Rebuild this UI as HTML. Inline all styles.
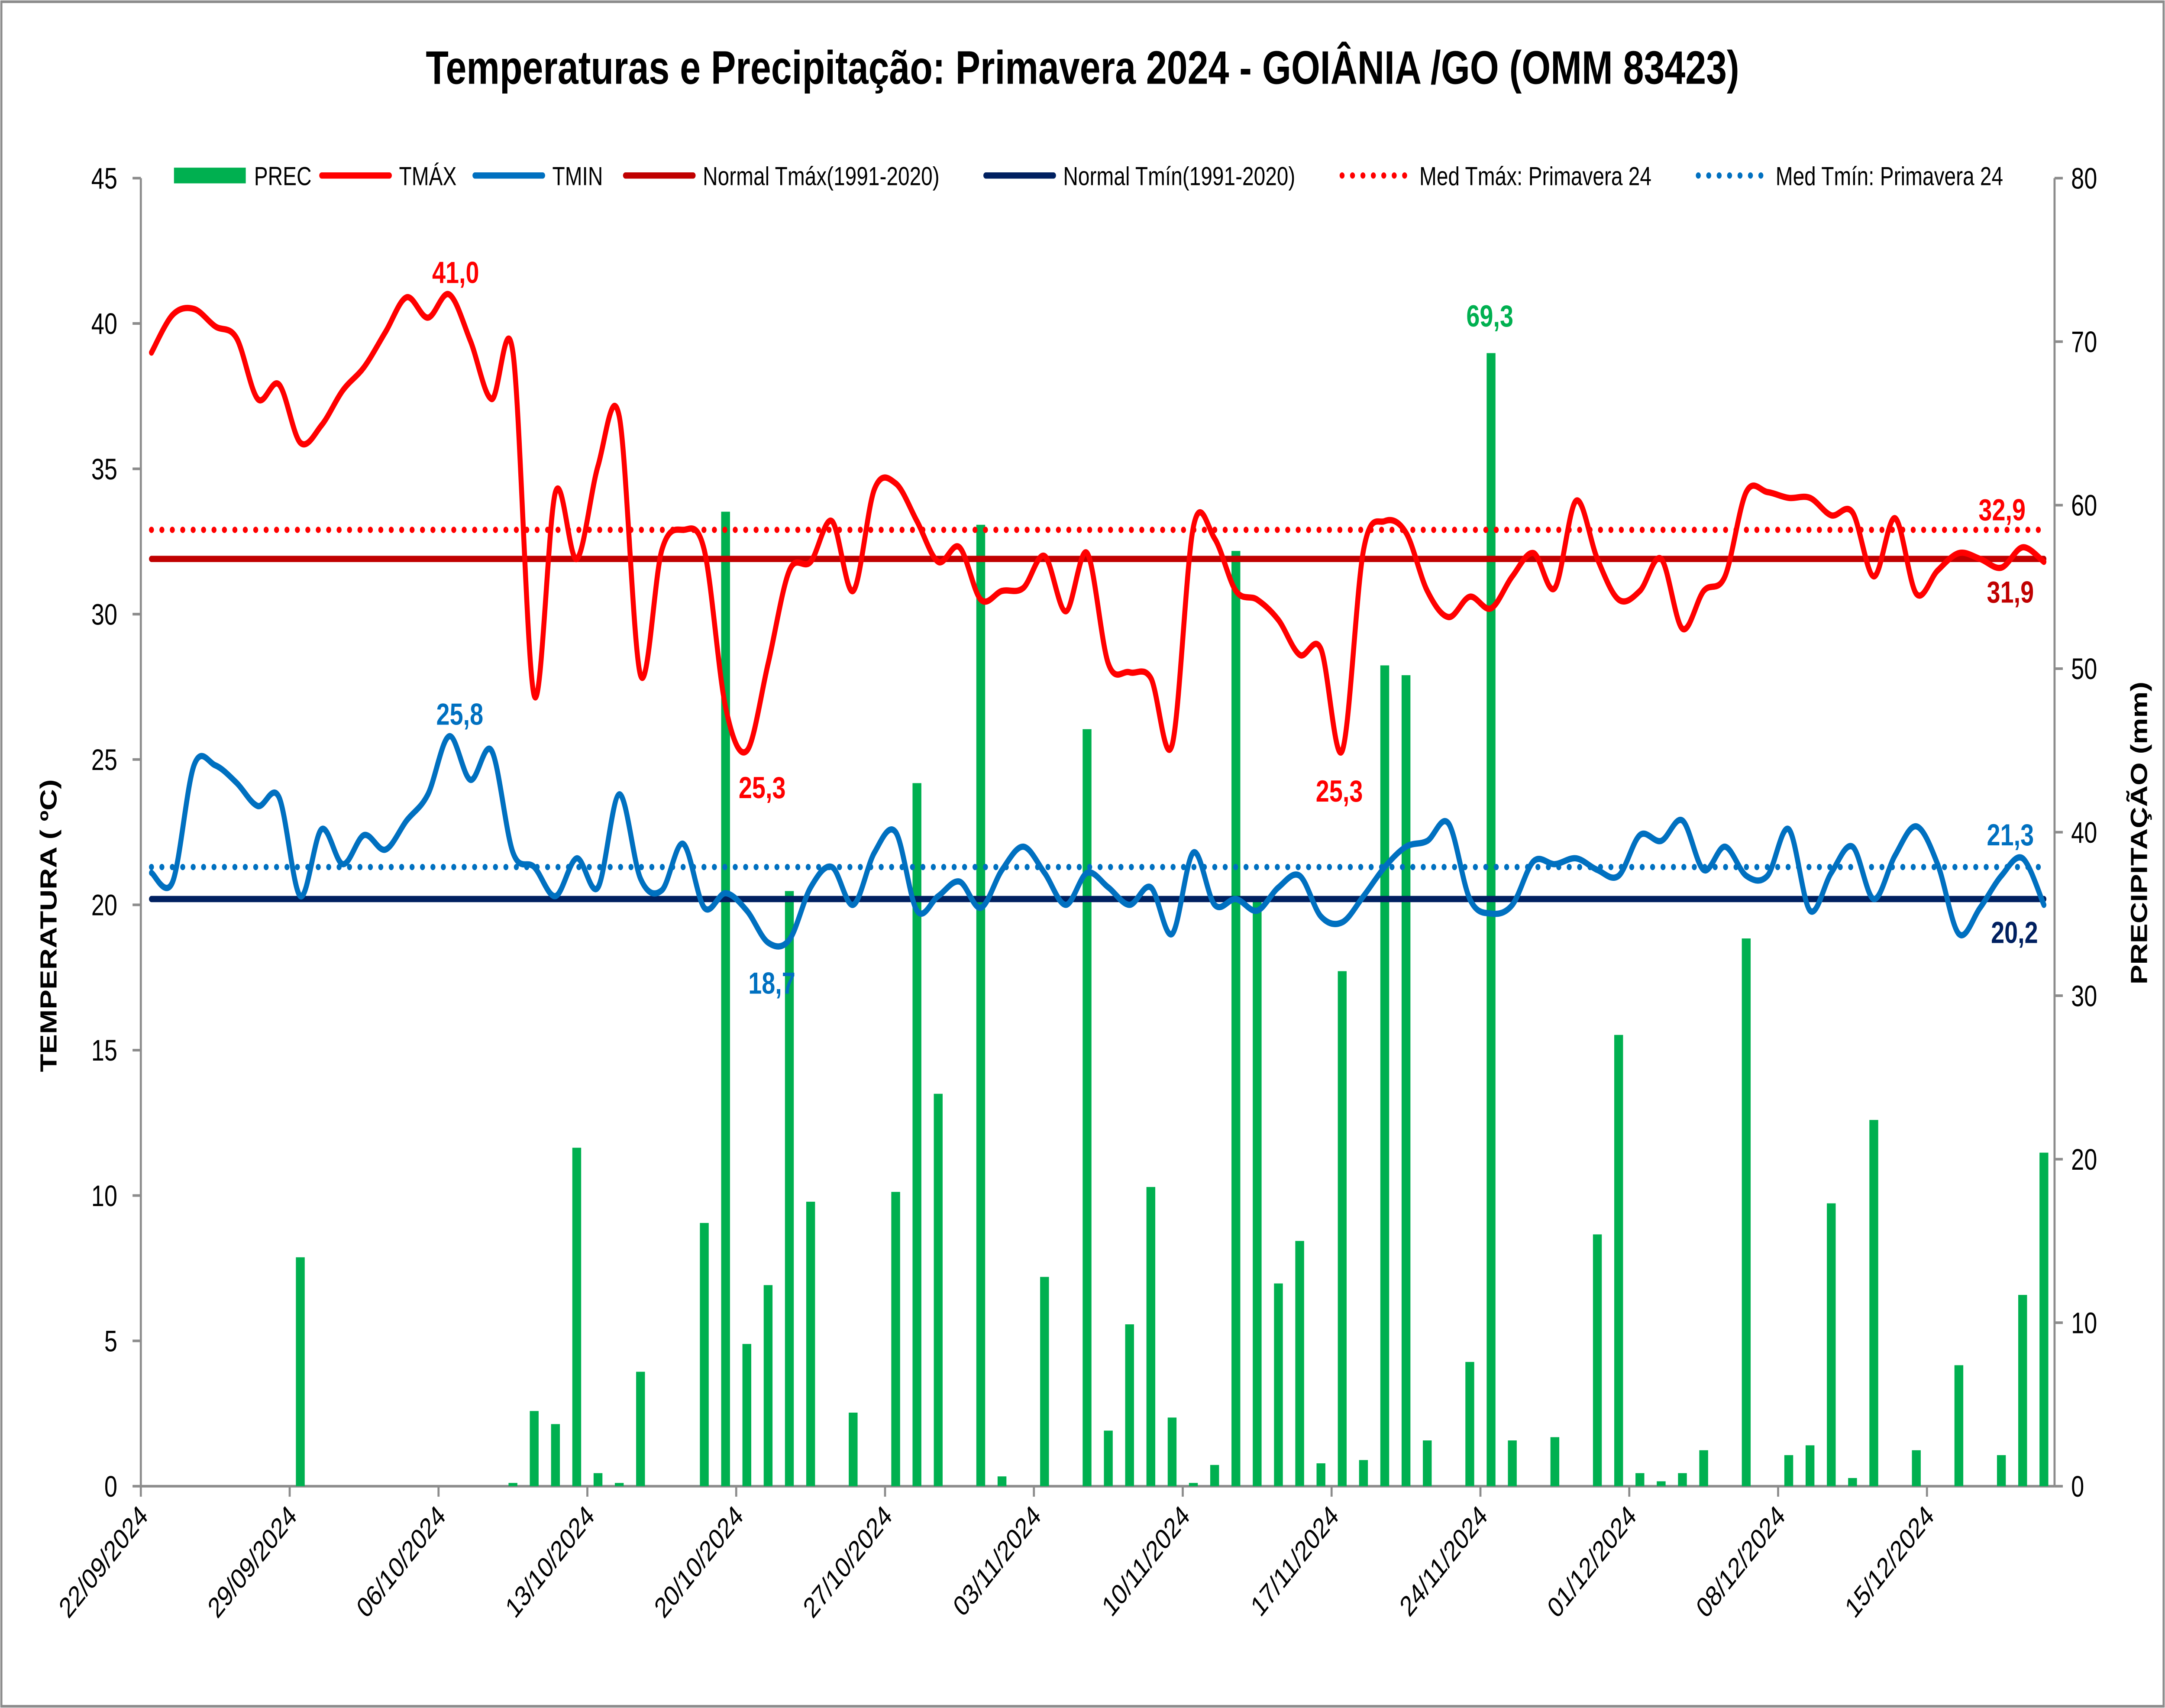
<!DOCTYPE html>
<html><head><meta charset="utf-8">
<style>
html,body{margin:0;padding:0;background:#fff;overflow:hidden;width:100%;height:100%;}
svg{display:block;position:fixed;left:0;top:0;width:100vw;height:100vh;font-family:"Liberation Sans",sans-serif;}
</style></head>
<body>
<svg id="chart" viewBox="0 0 1568 978" preserveAspectRatio="none" xmlns="http://www.w3.org/2000/svg">
<rect x="1" y="1" width="1566" height="976" fill="#fff" stroke="#8c8c8c" stroke-width="1.5"/>
<text x="784" y="48" text-anchor="middle" font-size="27" font-weight="bold">Temperaturas e Precipitação: Primavera 2024 - GOIÂNIA /GO (OMM 83423)</text>
<g id="grid"></g>
<g id="bars"></g>
<g id="lines"></g>
<g id="labels"></g>
<g id="legend"></g>
<text transform="translate(41,530) rotate(-90)" text-anchor="middle" font-size="17" font-weight="bold">TEMPERATURA ( ºC)</text>
<text transform="translate(1555,477) rotate(-90)" text-anchor="middle" font-size="17" font-weight="bold">PRECIPITAÇÃO (mm)</text>
</svg>
<script>
const tmax=[39.0,40.3,40.5,39.9,39.5,37.4,37.9,35.9,36.5,37.7,38.5,39.7,40.9,40.2,41.0,39.4,37.4,39.0,27.2,34.2,31.9,35.1,36.8,27.9,32.2,32.9,32.2,26.8,25.3,28.3,31.5,31.8,33.2,30.8,34.3,34.5,33.2,31.8,32.3,30.5,30.8,30.9,32.0,30.1,32.1,28.3,28.0,27.8,25.5,33.0,32.6,30.8,30.5,29.8,28.6,28.8,25.3,32.2,33.2,32.8,30.8,29.9,30.6,30.2,31.3,32.1,30.9,33.9,31.9,30.5,30.8,31.9,29.5,30.8,31.3,34.2,34.2,34.0,34.0,33.4,33.5,31.3,33.3,30.7,31.5,32.1,31.9,31.6,32.3,31.8];
const tmin=[21.1,20.8,24.8,24.8,24.2,23.4,23.7,20.3,22.6,21.4,22.4,21.9,22.9,23.8,25.8,24.3,25.3,21.8,21.3,20.3,21.6,20.6,23.8,20.9,20.5,22.1,19.9,20.4,19.8,18.7,18.8,20.6,21.3,20.0,21.8,22.5,19.8,20.3,20.8,19.9,21.2,22.0,21.1,20.0,21.1,20.6,20.0,20.6,19.0,21.8,20.0,20.2,19.8,20.6,21.0,19.6,19.4,20.3,21.3,22.0,22.2,22.8,20.2,19.7,20.0,21.5,21.4,21.6,21.2,21.0,22.4,22.2,22.9,21.2,22.0,21.0,21.0,22.6,19.8,21.1,22.0,20.2,21.7,22.7,21.4,19.0,19.9,21.0,21.6,20.0];
const precDays=[7,17,18,19,20,21,22,23,26,27,28,29,30,31,33,35,36,37,39,40,42,44,45,46,47,48,49,50,51,52,53,54,55,56,57,58,59,60,62,63,64,66,68,69,70,71,72,73,75,77,78,79,80,81,83,85,87,88,89];
const precVals=[14,0.2,4.6,3.8,20.7,0.8,0.2,7.0,16.1,59.6,8.7,12.3,36.4,17.4,4.5,18.0,43.0,24.0,58.8,0.6,12.8,46.3,3.4,9.9,18.3,4.2,0.2,1.3,57.2,36.0,12.4,15.0,1.4,31.5,1.6,50.2,49.6,2.8,7.6,69.3,2.8,3.0,15.4,27.6,0.8,0.3,0.8,2.2,33.5,1.9,2.5,17.3,0.5,22.4,2.2,7.4,1.9,11.7,20.4];
const normTmax=31.9, normTmin=20.2, medTmax=32.9, medTmin=21.3;
const tempTicks=[0,5,10,15,20,25,30,35,40,45];
const precTicks=[0,10,20,30,40,50,60,70,80];
const dateLabels=["22/09/2024","29/09/2024","06/10/2024","13/10/2024","20/10/2024","27/10/2024","03/11/2024","10/11/2024","17/11/2024","24/11/2024","01/12/2024","08/12/2024","15/12/2024"];

const NS="http://www.w3.org/2000/svg";
const X0=102,X1=1488,Y0=851,YT=102,N=90;
const dx=(X1-X0)/N;
const xs=i=>X0+dx*(i+0.5);
const yT=v=>Y0-(v/45)*(Y0-YT);
const yP=v=>Y0-(v/80)*(Y0-YT);
function mk(tag,attrs,parent,txt){const e=document.createElementNS(NS,tag);for(const k in attrs)e.setAttribute(k,attrs[k]);if(txt!==undefined)e.textContent=txt;parent.appendChild(e);return e;}
const grid=document.getElementById('grid'),bars=document.getElementById('bars'),lines=document.getElementById('lines'),labels=document.getElementById('labels'),legend=document.getElementById('legend');

let a=mk('line',{x1:X0,y1:YT,x2:X0,y2:Y0,stroke:'#8c8c8c','stroke-width':1.5},grid);


a=mk('line',{x1:X1,y1:YT,x2:X1,y2:Y0,stroke:'#8c8c8c','stroke-width':1.5},grid);


a=mk('line',{x1:X0,y1:Y0,x2:X1,y2:Y0,stroke:'#8c8c8c','stroke-width':1.5},grid);


tempTicks.forEach(t=>{const y=yT(t);
 mk('line',{x1:X0-6,y1:y,x2:X0,y2:y,stroke:'#8c8c8c','stroke-width':1.5},grid);
 const e=mk('text',{x:X0-17,y:y+6,'text-anchor':'end','font-size':17},grid,String(t));
 
 });
precTicks.forEach(t=>{const y=yP(t);
 mk('line',{x1:X1,y1:y,x2:X1+6,y2:y,stroke:'#8c8c8c','stroke-width':1.5},grid);
 const e=mk('text',{x:X1+12,y:y+6,'text-anchor':'start','font-size':17},grid,String(t));
 
 });
dateLabels.forEach((d,k)=>{const x=X0+dx*7*k;
 mk('line',{x1:x,y1:Y0,x2:x,y2:Y0+6,stroke:'#8c8c8c','stroke-width':1.5},grid);
 const e=mk('text',{transform:`translate(${x+6},${Y0+18}) rotate(-45)`,'text-anchor':'end','font-size':16.5},grid,d);
 
 });

precDays.forEach((d,j)=>{const v=precVals[j];const y=yP(v);
 const r=mk('rect',{x:xs(d)-3.2,y:y,width:6.4,height:Y0-y,fill:'#00b050'},bars);
 
 });

function hline(v,color,dotted,name){
 const y=yT(v);
 const l=mk('line',{x1:xs(0),y1:y,x2:xs(N-1),y2:y,stroke:color,'stroke-width':3.6,'stroke-linecap':'round'},lines);
 if(dotted)l.setAttribute('stroke-dasharray','0 7.55');
 
 
}
hline(medTmax,'#ff0000',true,'med-tmax-line');
hline(normTmax,'#c00000',false,'normal-tmax-line');
hline(medTmin,'#0070c0',true,'med-tmin-line');
hline(normTmin,'#002060',false,'normal-tmin-line');

function smooth(vals,yf){
 const p=vals.map((v,i)=>[xs(i),yf(v)]);
 let d=`M${p[0][0]},${p[0][1]}`;
 for(let i=0;i<p.length-1;i++){
  const p0=p[i-1]||p[i],p1=p[i],p2=p[i+1],p3=p[i+2]||p[i+1];
  const t=1/6;
  const c1=[p1[0]+(p2[0]-p0[0])*t,p1[1]+(p2[1]-p0[1])*t];
  const c2=[p2[0]-(p3[0]-p1[0])*t,p2[1]-(p3[1]-p1[1])*t];
  d+=` C${c1[0]},${c1[1]} ${c2[0]},${c2[1]} ${p2[0]},${p2[1]}`;
 }
 return d;
}
let pl=mk('path',{d:smooth(tmax,yT),fill:'none',stroke:'#ff0000','stroke-width':3.6,'stroke-linejoin':'round','stroke-linecap':'round'},lines);


pl=mk('path',{d:smooth(tmin,yT),fill:'none',stroke:'#0070c0','stroke-width':3.6,'stroke-linejoin':'round','stroke-linecap':'round'},lines);



const dl=[["41,0",330,162,'#ff0000'],["25,8",333,415,'#0070c0'],["25,3",552,457,'#ff0000'],["18,7",559,569,'#0070c0'],["25,3",970,459,'#ff0000'],["69,3",1079,187,'#00b050'],["32,9",1450,298,'#ff0000'],["31,9",1456,345,'#c00000'],["21,3",1456,484,'#0070c0'],["20,2",1459,540,'#002060']];
dl.forEach(q=>{const e=mk('text',{x:q[1],y:q[2],'text-anchor':'middle','font-size':17.5,'font-weight':'bold',fill:q[3]},labels,q[0]);
 
 });

const lg=[['bar','#00b050',false,126,'PREC'],['line','#ff0000',false,231,'TMÁX'],['line','#0070c0',false,342,'TMIN'],['line','#c00000',false,451,'Normal Tmáx(1991-2020)'],['line','#002060',false,712,'Normal Tmín(1991-2020)'],['line','#ff0000',true,970,'Med Tmáx: Primavera 24'],['line','#0070c0',true,1228,'Med Tmín: Primavera 24']];
lg.forEach(q=>{const g=mk('g',{},legend);
 
 
 if(q[0]==='bar')mk('rect',{x:q[3],y:96,width:52,height:9,fill:q[1]},g);
 else{const l=mk('line',{x1:q[3]+2,y1:100.5,x2:q[3]+51,y2:100.5,stroke:q[1],'stroke-width':3.6,'stroke-linecap':'round'},g);if(q[2])l.setAttribute('stroke-dasharray','0 7.55');}
 mk('text',{x:q[3]+58,y:106,'font-size':15},g,q[4]);});
</script>
</body></html>
